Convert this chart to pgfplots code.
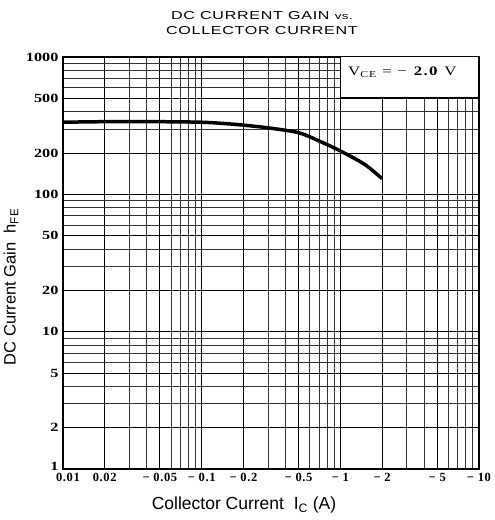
\documentclass[border=0pt]{standalone}
\usepackage{pgfplots}
\pgfplotsset{compat=1.18}
\usepackage{fontspec}
\setmainfont{Liberation Sans}
\newfontfamily\serifx[LetterSpace=5]{Liberation Serif}
\newfontfamily\serify[FakeStretch=1.3]{Liberation Serif}
\newfontfamily\serifwide[FakeStretch=1.3,LetterSpace=10]{Liberation Serif}
\newfontfamily\titlefont[FakeStretch=1.4,LetterSpace=6]{Liberation Sans}
\begin{document}
\begin{tikzpicture}
\begin{axis}[
  at={(0,0)}, anchor=south west, scale only axis,
  width=416pt, height=412pt,
  xmode=log, ymode=log,
  xmin=0.01, xmax=10, ymin=1, ymax=1000,
  xtick={0.01,0.02,0.05,0.1,0.2,0.5,1,2,5,10},
  xticklabels={\hspace*{10pt}0.01,0.02,− 0.05,− 0.1,− 0.2,− 0.5,− 1,− 2,− 5,− 10},
  ytick={1,2,5,10,20,50,100,200,500,1000},
  yticklabels={\raisebox{5pt}{1},2,5,10,20,50,100,200,500,1000},
  minor xtick={0.03,0.04,0.06,0.07,0.08,0.09,0.3,0.4,0.6,0.7,0.8,0.9,3,4,6,7,8,9},
  minor ytick={3,4,6,7,8,9,30,40,60,70,80,90,300,400,600,700,800,900},
  grid=both,
  major grid style={black, line width=0.9pt},
  minor grid style={black!80, line width=0.5pt},
  axis line style={line width=1.3pt},
  tick style={draw=none},
  /pgf/number format/assume math mode=true,
  xticklabel style={font=\serifx\bfseries\fontsize{12.5}{14}\selectfont, yshift=-1pt},
  yticklabel style={font=\serify\bfseries\fontsize{12.5}{14}\selectfont, xshift=-1pt},
]
\addplot[black, line width=3.5pt, smooth, tension=0.5] coordinates {
 (0.01,335) (0.015,337) (0.02,338) (0.03,339) (0.05,338) (0.1,335) (0.15,327)
 (0.2,319) (0.3,305) (0.5,281) (0.7,245) (1,207) (1.5,165) (2,130)
};
\draw[fill=white, line width=1pt] (axis cs:1,505) rectangle (axis cs:10,1000);
\node[font=\serifwide\fontsize{13}{14}\selectfont] at (axis cs:2.8,777) {V\textsubscript{CE} = − \textbf{2.0} V};
\end{axis}
\node[align=center, font=\titlefont\fontsize{11.5}{15}\selectfont] at (199pt,445.5pt) {DC CURRENT GAIN {\fontsize{9.5}{10}\selectfont vs.}\\COLLECTOR CURRENT};
\node[font=\fontsize{17.5}{19}\selectfont] at (181pt,-36pt) {Collector Current \ I\textsubscript{C} (A)};
\node[font=\fontsize{16.5}{18}\selectfont, rotate=90] at (-52pt,182pt) {DC Current Gain \ h\textsubscript{FE}};
\path (-63pt,-51pt) rectangle (422pt,469pt);
\end{tikzpicture}
\end{document}
